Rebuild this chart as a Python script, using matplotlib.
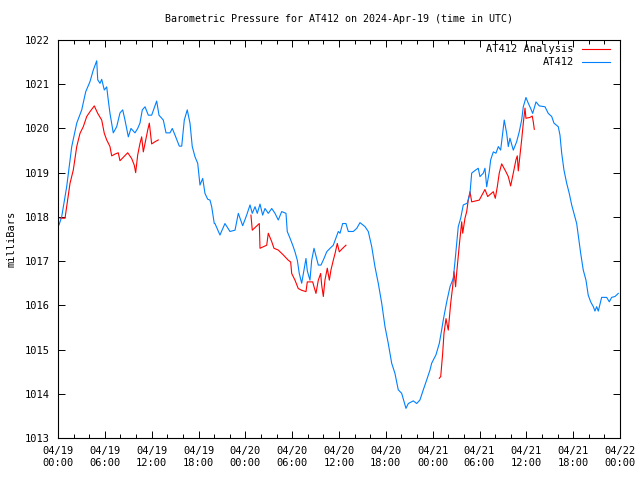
import numpy as np
import matplotlib
matplotlib.use('Agg')
import matplotlib.pyplot as plt
from matplotlib.ticker import MultipleLocator

# hours since 2024-04-19 00:00 UTC, pressure in mb
at412_hours = [0.13, 0.47, 1.11, 1.76, 2.40, 3.04, 3.55, 4.10, 4.52, 4.96, 5.09, 5.38, 5.60, 5.93,
               6.24, 6.44, 6.66, 7.08, 7.52, 7.94, 8.29, 8.58, 9.01, 9.35, 9.86, 10.21, 10.50, 10.80,
               11.15, 11.57, 12.00, 12.64, 12.94, 13.49, 13.84, 14.35, 14.64, 14.99, 15.54, 15.85,
               16.18, 16.56, 16.91, 17.20, 17.55, 17.90, 18.19, 18.54, 18.83, 19.18, 19.47, 19.69,
               20.02, 20.11, 20.75, 21.39, 22.03, 22.68, 23.10, 23.66, 24.17, 24.60, 24.89, 25.24,
               25.53, 25.88, 26.22, 26.52, 26.94, 27.38, 27.80, 28.22, 28.66, 29.21, 29.37, 29.72,
               30.07, 30.36, 30.66, 30.91, 31.22, 31.51, 31.77, 31.94, 32.28, 32.50, 32.80, 33.14,
               33.35, 33.69, 34.08, 34.42, 34.85, 35.27, 35.91, 36.13, 36.47, 36.89, 37.19, 37.83,
               38.27, 38.69, 39.33, 39.75, 40.19, 40.61, 41.03, 41.47, 41.89, 42.31, 42.75, 43.17,
               43.59, 44.03, 44.58, 44.88, 45.52, 45.95, 46.37, 46.80, 47.23, 47.66, 47.87, 48.42,
               48.85, 49.15, 49.36, 49.80, 50.22, 50.64, 50.86, 51.28, 51.59, 51.92, 52.43, 52.78,
               53.00, 53.43, 53.84, 54.06, 54.49, 54.70, 54.92, 55.25, 55.43, 55.77, 56.11, 56.41,
               56.71, 56.97, 57.17, 57.48, 57.69, 57.90, 58.33, 58.76, 59.10, 59.40, 59.61, 59.95,
               60.25, 60.56, 60.81, 61.24, 61.66, 62.39, 62.81, 63.25, 63.54, 64.09, 64.31, 64.53,
               64.82, 65.17, 65.50, 65.81, 66.10, 66.45, 66.65, 66.96, 67.29, 67.64, 67.93, 68.24,
               68.58, 68.79, 69.01, 69.22, 69.65, 70.29, 70.63, 70.93, 71.36, 71.78]
at412_mb = [1017.82, 1018.00, 1018.68, 1019.59, 1020.12, 1020.42, 1020.83, 1021.06, 1021.32, 1021.53,
            1021.10, 1021.02, 1021.11, 1020.87, 1020.94, 1020.64, 1020.34, 1019.90, 1020.04, 1020.35,
            1020.42, 1020.19, 1019.81, 1020.00, 1019.90, 1020.00, 1020.12, 1020.42, 1020.49, 1020.30,
            1020.30, 1020.62, 1020.30, 1020.19, 1019.90, 1019.90, 1020.00, 1019.85, 1019.60, 1019.60,
            1020.19, 1020.42, 1020.12, 1019.59, 1019.36, 1019.21, 1018.72, 1018.87, 1018.53, 1018.40,
            1018.38, 1018.23, 1017.85, 1017.85, 1017.59, 1017.85, 1017.67, 1017.70, 1018.08, 1017.80,
            1018.04, 1018.27, 1018.08, 1018.23, 1018.08, 1018.29, 1018.04, 1018.19, 1018.08, 1018.19,
            1018.08, 1017.93, 1018.12, 1018.08, 1017.67, 1017.52, 1017.36, 1017.21, 1017.02, 1016.72,
            1016.50, 1016.80, 1017.06, 1016.78, 1016.57, 1017.02, 1017.29, 1017.06, 1016.91, 1016.91,
            1017.06, 1017.21, 1017.29, 1017.36, 1017.67, 1017.63, 1017.85, 1017.85, 1017.67, 1017.67,
            1017.74, 1017.87, 1017.78, 1017.67, 1017.33, 1016.87, 1016.50, 1016.05, 1015.52, 1015.14,
            1014.69, 1014.46, 1014.09, 1014.01, 1013.67, 1013.78, 1013.84, 1013.78, 1013.86, 1014.09,
            1014.31, 1014.54, 1014.69, 1014.88, 1015.14, 1015.44, 1015.67, 1016.08, 1016.42, 1016.61,
            1016.99, 1017.78, 1017.97, 1018.27, 1018.31, 1018.53, 1018.99, 1019.05, 1019.10, 1018.91,
            1018.99, 1019.10, 1018.68, 1019.02, 1019.29, 1019.47, 1019.44, 1019.59, 1019.51, 1019.89,
            1020.19, 1019.89, 1019.59, 1019.78, 1019.51, 1019.70, 1019.93, 1020.19, 1020.49, 1020.70,
            1020.57, 1020.45, 1020.34, 1020.60, 1020.51, 1020.49, 1020.34, 1020.27, 1020.12, 1020.04,
            1019.85, 1019.44, 1019.06, 1018.76, 1018.53, 1018.27, 1018.08, 1017.85, 1017.59, 1017.18,
            1016.80, 1016.57, 1016.23, 1016.08, 1015.97, 1015.87, 1015.97, 1015.87, 1016.18, 1016.18,
            1016.08, 1016.18, 1016.20, 1016.27]

# analysis comes in three separate runs
ana1_hours = [0.26, 0.90, 1.11, 1.54, 1.96, 2.40, 2.82, 3.24, 3.68, 4.10, 4.65, 5.09, 5.60, 5.93,
              6.24, 6.66, 6.88, 7.30, 7.72, 7.94, 8.93, 9.44, 9.77, 9.95, 10.21, 10.50, 10.72,
              10.93, 11.24, 11.49, 11.70, 12.00, 12.43, 12.85]
ana1_mb = [1017.97, 1017.97, 1018.23, 1018.76, 1019.06, 1019.59, 1019.89, 1020.04, 1020.27, 1020.38,
           1020.51, 1020.34, 1020.19, 1019.89, 1019.74, 1019.59, 1019.38, 1019.42, 1019.45, 1019.27,
           1019.45, 1019.32, 1019.17, 1019.00, 1019.40, 1019.66, 1019.81, 1019.47, 1019.74, 1019.96,
           1020.12, 1019.65, 1019.70, 1019.74]
ana2_hours = [24.72, 24.89, 25.79, 25.88, 26.74, 26.94, 27.38, 27.67, 28.22, 28.86, 29.50, 29.81,
              29.94, 30.36, 30.78, 31.22, 31.77, 31.94, 32.63, 32.80, 33.05, 33.35, 33.65, 33.78,
              33.99, 34.20, 34.50, 34.76, 34.97, 35.27, 35.49, 35.78, 36.04, 36.47, 36.89]
ana2_mb = [1018.04, 1017.70, 1017.85, 1017.29, 1017.36, 1017.63, 1017.44, 1017.29, 1017.25, 1017.14,
           1017.02, 1016.98, 1016.72, 1016.57, 1016.38, 1016.34, 1016.31, 1016.53, 1016.53, 1016.42,
           1016.27, 1016.57, 1016.72, 1016.46, 1016.20, 1016.57, 1016.84, 1016.57, 1016.80, 1017.02,
           1017.17, 1017.40, 1017.21, 1017.29, 1017.36]
ana3_hours = [48.85, 49.03, 49.28, 49.45, 49.71, 49.87, 50.00, 50.31, 50.56, 50.73, 50.94, 51.07,
              51.15, 51.41, 51.72, 51.85, 52.14, 52.36, 52.56, 52.78, 53.00, 53.97, 54.70, 55.05,
              55.77, 56.02, 56.28, 56.53, 56.84, 57.39, 57.69, 57.99, 58.33, 58.67, 58.84, 58.97,
              59.19, 59.40, 59.61, 59.83, 59.95, 60.47, 60.76, 60.89, 61.02]
ana3_mb = [1014.35, 1014.39, 1014.91, 1015.37, 1015.70, 1015.55, 1015.44, 1016.05, 1016.42, 1016.76,
           1016.42, 1016.72, 1016.87, 1017.36, 1017.89, 1017.63, 1017.97, 1018.12, 1018.38, 1018.57,
           1018.34, 1018.38, 1018.62, 1018.46, 1018.57, 1018.42, 1018.68, 1018.99, 1019.20, 1019.02,
           1018.91, 1018.70, 1018.99, 1019.29, 1019.38, 1019.04, 1019.40, 1019.74, 1020.12, 1020.46,
           1020.23, 1020.25, 1020.28, 1020.15, 1019.98]

tick_hours = list(range(0, 73, 6))
tick_labels = ['04/19\n00:00', '04/19\n06:00', '04/19\n12:00', '04/19\n18:00',
               '04/20\n00:00', '04/20\n06:00', '04/20\n12:00', '04/20\n18:00',
               '04/21\n00:00', '04/21\n06:00', '04/21\n12:00', '04/21\n18:00',
               '04/22\n00:00']

plt.rcParams['font.family'] = 'DejaVu Sans Mono'
plt.rcParams['font.size'] = 7.5

fig = plt.figure(figsize=(6.4, 4.8), dpi=100)
ax = fig.add_axes([58/640, 42/480, 562/640, 398/480])

nan = float('nan')
ana_h = ana1_hours + [nan] + ana2_hours + [nan] + ana3_hours
ana_v = ana1_mb + [nan] + ana2_mb + [nan] + ana3_mb
ax.plot(ana_h, ana_v, color='#ff0000', lw=0.8, label='AT412 Analysis')
ax.plot(at412_hours, at412_mb, color='#0080ff', lw=0.8, label='AT412')

ax.set_xlim(0, 72)
ax.set_ylim(1013, 1022)
ax.set_xticks(tick_hours)
ax.set_xticklabels(tick_labels)
ax.xaxis.set_minor_locator(MultipleLocator(2))
ax.yaxis.set_major_locator(MultipleLocator(1))
ax.tick_params(which='both', direction='in', top=True, right=True, width=0.7)
ax.tick_params(which='major', length=5, pad=6)
ax.tick_params(which='minor', length=3)
for s in ax.spines.values():
    s.set_linewidth(0.8)

ax.set_ylabel('milliBars', labelpad=6)
ax.set_title('Barometric Pressure for AT412 on 2024-Apr-19 (time in UTC)',
             fontsize=7.2, pad=13)

leg = ax.legend(loc='upper right', frameon=False, markerfirst=False,
                handlelength=2.7, borderaxespad=0.5, labelspacing=0.3, handletextpad=0.8,
                bbox_to_anchor=(0.999, 1.013))
for t in leg.get_texts():
    t.set_ha('right')

fig.savefig('out.png', dpi=100)
